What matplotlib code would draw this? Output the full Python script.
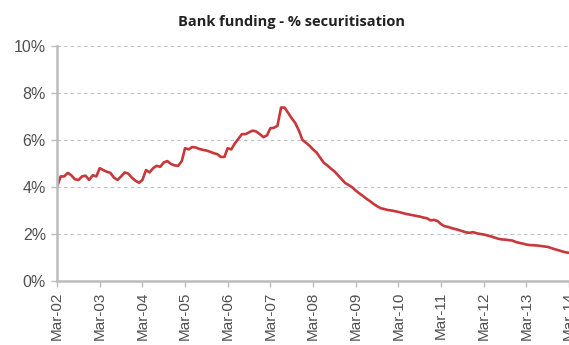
import matplotlib
matplotlib.use('Agg')
import matplotlib.pyplot as plt
import pandas as pd

# monthly share of bank funding from securitisation, Mar-02 .. Mar-14 (%)
values = [
    4.00, 4.45, 4.45, 4.60, 4.50, 4.33, 4.30, 4.45, 4.48, 4.30, 4.50, 4.45,
    4.80, 4.72, 4.65, 4.60, 4.40, 4.30, 4.45, 4.62, 4.57, 4.40, 4.27, 4.18,
    4.30, 4.72, 4.62, 4.80, 4.90, 4.86, 5.05, 5.10, 4.98, 4.92, 4.90, 5.10,
    5.65, 5.60, 5.70, 5.68, 5.62, 5.58, 5.55, 5.50, 5.44, 5.40, 5.28, 5.28,
    5.65, 5.60, 5.85, 6.05, 6.25, 6.25, 6.33, 6.40, 6.36, 6.25, 6.12, 6.20,
    6.50, 6.52, 6.60, 7.38, 7.38, 7.15, 6.92, 6.72, 6.40, 6.00, 5.88, 5.75,
    5.60, 5.46, 5.25, 5.03, 4.92, 4.78, 4.66, 4.50, 4.33, 4.17, 4.08, 3.98,
    3.85, 3.73, 3.62, 3.50, 3.40, 3.28, 3.18, 3.10, 3.06, 3.02, 3.00, 2.97,
    2.94, 2.90, 2.86, 2.83, 2.80, 2.77, 2.74, 2.70, 2.67, 2.58, 2.60, 2.55,
    2.42, 2.33, 2.30, 2.25, 2.21, 2.17, 2.12, 2.07, 2.05, 2.08, 2.03, 2.00,
    1.98, 1.94, 1.90, 1.85, 1.80, 1.77, 1.76, 1.74, 1.72, 1.66, 1.62, 1.59,
    1.55, 1.53, 1.52, 1.51, 1.49, 1.47, 1.45, 1.40, 1.35, 1.31, 1.26, 1.22,
    1.20,
]
dates = pd.date_range('2002-03-01', periods=len(values), freq='MS')

tick_dates = pd.date_range('2002-03-01', '2014-03-01', freq='12MS')
tick_labels = [d.strftime('Mar-%y') for d in tick_dates]
y_ticks = [0, 2, 4, 6, 8, 10]

fig = plt.figure(figsize=(5.69, 3.45), dpi=100)
ax = fig.add_axes([0.1002, 0.1855, 0.8998, 0.6812])

ax.plot(dates, values, color='#c8373a', linewidth=1.9)

ax.set_xlim(tick_dates[0], tick_dates[-1])
ax.set_ylim(0, 10)
ax.set_xticks(tick_dates)
ax.set_xticklabels(tick_labels, rotation=90, fontsize=11,
                   family='Liberation Sans', color='#505050')
ax.set_yticks(y_ticks)
ax.set_yticklabels([f'{v}%' for v in y_ticks], fontsize=11.5,
                   family='Liberation Sans', color='#505050')

ax.grid(axis='y', linestyle=(0, (3, 3)), color='#c0c0c0', linewidth=0.8)
ax.set_axisbelow(True)
for side in ['top', 'right']:
    ax.spines[side].set_visible(False)
for side in ['left', 'bottom']:
    ax.spines[side].set_color('#bcbcbc')
    ax.spines[side].set_linewidth(1.8)
ax.tick_params(axis='both', color='#bcbcbc', length=4, width=1, pad=4)

fig.text(292 / 569, 1 - 22 / 345, 'Bank funding - % securitisation',
         ha='center', va='center', fontsize=10.5, fontweight='bold',
         family='Open Sans', color='#222222')

fig.savefig('out.png', dpi=100)
